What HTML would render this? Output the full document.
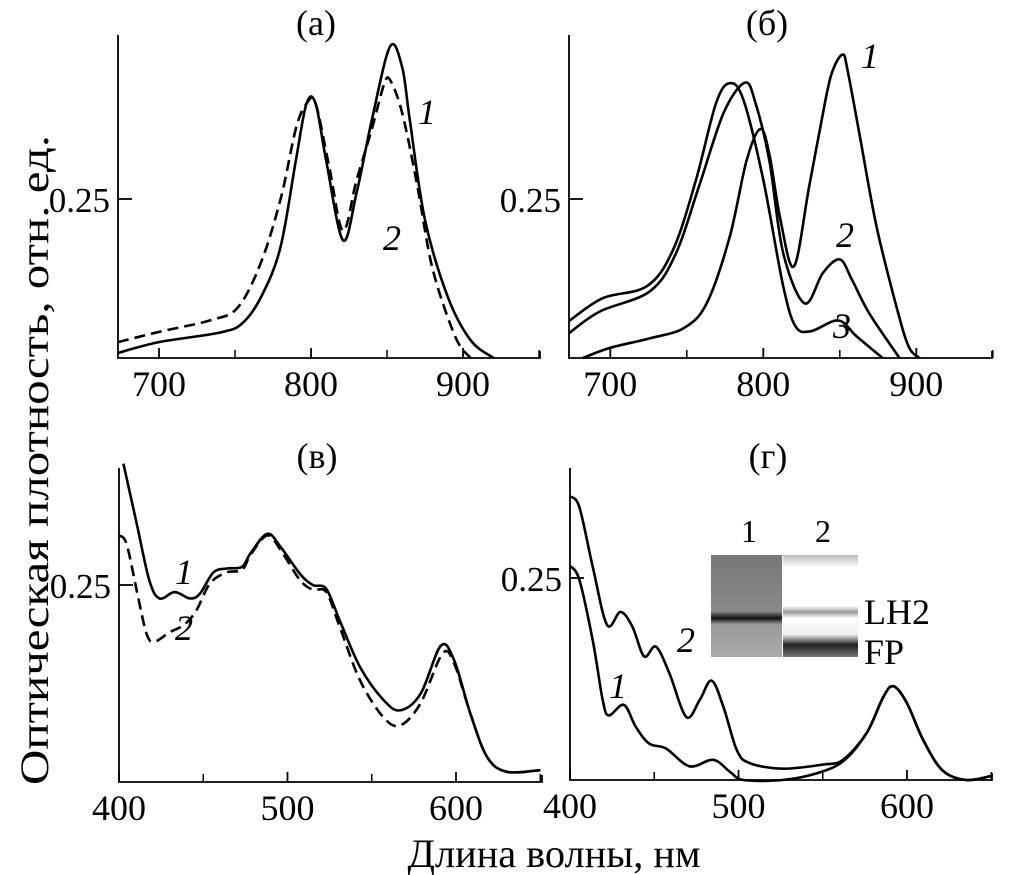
<!DOCTYPE html>
<html><head><meta charset="utf-8"><style>
body{margin:0;background:#fff;}
svg{display:block;font-family:"Liberation Serif",serif;}
</style></head><body>
<svg id="fig" width="1010" height="875" viewBox="0 0 1010 875">
<defs>
<linearGradient id="lane1" x1="0" y1="0" x2="0" y2="1">
<stop offset="0" stop-color="#777"/><stop offset="0.55" stop-color="#8a8a8a"/><stop offset="0.62" stop-color="#111"/><stop offset="0.68" stop-color="#999"/><stop offset="1" stop-color="#aaa"/></linearGradient>
<linearGradient id="lane2" x1="0" y1="0" x2="0" y2="1">
<stop offset="0" stop-color="#bbb"/><stop offset="0.12" stop-color="#fff"/><stop offset="0.5" stop-color="#fff"/><stop offset="0.56" stop-color="#999"/><stop offset="0.62" stop-color="#fff"/><stop offset="0.78" stop-color="#eee"/><stop offset="0.88" stop-color="#222"/><stop offset="1" stop-color="#777"/></linearGradient>
</defs>
</svg>
<script>
// Panel (a)
const aWl1=[673,700,740,755,768,780,790,797,803,810,821,830,840,852,860,865,875,890,905,920];
const aVal1=[0.008,0.025,0.04,0.055,0.1,0.175,0.31,0.40,0.40,0.31,0.185,0.26,0.374,0.49,0.457,0.374,0.217,0.096,0.028,0];
const aWl2=[673,700,735,752,767,780,790,797,803,812,821,830,840,848,852,860,870,880,895,905];
const aVal2=[0.025,0.041,0.06,0.08,0.15,0.25,0.36,0.40,0.40,0.30,0.20,0.28,0.36,0.43,0.437,0.385,0.27,0.14,0.033,0];
// Panel (б)
const bWl1=[682,700,726,748,763,778,789,798,804,811,820,830,841,846,852,855,863,874,887,895,902];
const bVal1=[0,0.016,0.031,0.047,0.086,0.19,0.31,0.36,0.32,0.22,0.144,0.27,0.41,0.456,0.477,0.453,0.35,0.207,0.081,0.018,0];
const bWl2=[673,693,726,743,758,774,788,795,804,813,827,839,850,858,869,889];
const bVal2=[0.039,0.073,0.105,0.165,0.27,0.385,0.433,0.40,0.31,0.165,0.086,0.134,0.155,0.123,0.071,0];
const bWl3=[673,695,724,741,756,769,778,787,800,813,821,831,849,861,878];
const bVal3=[0.058,0.094,0.113,0.17,0.28,0.40,0.432,0.406,0.28,0.113,0.05,0.042,0.059,0.034,0];
// Panel (в)
const cWl1=[402.6,410.5,418,424,433,442,448,456,464,473,478,488,496,507.5,515,523,531,543,557,567,579,591,599,608.5,618.4,630,650];
const cVal1=[0.404,0.328,0.256,0.233,0.241,0.233,0.239,0.266,0.271,0.273,0.29,0.315,0.298,0.264,0.25,0.245,0.205,0.146,0.104,0.091,0.112,0.173,0.154,0.087,0.032,0.013,0.015];
const cWl2=[400,404.5,410.5,416.4,421,430,439,446,454,464,473,478,488,496,507.5,515,523,531,543,557,567,579,592,599,608.5,618.4,630,650];
const cVal2=[0.313,0.302,0.243,0.188,0.178,0.19,0.20,0.218,0.252,0.266,0.269,0.288,0.313,0.294,0.256,0.244,0.241,0.197,0.129,0.082,0.072,0.10,0.163,0.15,0.087,0.032,0.013,0.015];
// Panel (г)
const dWl1=[400,405.5,413.5,419.4,423,432,439,447,457,471,485,495,503,526,546,562,576,586,592,600,609.5,621,635,650];
const dVal1=[0.265,0.248,0.173,0.099,0.08,0.093,0.066,0.045,0.039,0.017,0.025,0.010,0,0,0.008,0.023,0.058,0.103,0.116,0.095,0.05,0.012,0,0.005];
const dWl2=[400,405.5,413.5,422,430,437,444,451,459,469,477,484,491,499,506.5,526,550,562,576,586,592,600,609.5,621,635,650];
const dVal2=[0.351,0.338,0.264,0.192,0.208,0.19,0.153,0.165,0.132,0.078,0.099,0.123,0.091,0.037,0.021,0.014,0.019,0.025,0.058,0.103,0.116,0.095,0.05,0.012,0,0.005];
const topTicks=[700,800,900];
const botTicks=[400,500,600];

const NS="http://www.w3.org/2000/svg";
const svg=document.getElementById('fig');
function mk(tag,attrs,parent){const e=document.createElementNS(NS,tag);for(const k in attrs)e.setAttribute(k,attrs[k]);(parent||svg).appendChild(e);return e;}
function txt(s,x,y,size,anchor,parent,style){const t=mk('text',{x:x,y:y,'font-size':size,'text-anchor':anchor||'middle'},parent);if(style)t.setAttribute('font-style',style);t.textContent=s;return t;}
function smooth(pts){let d='M'+pts[0][0].toFixed(1)+','+pts[0][1].toFixed(1);for(let i=0;i<pts.length-1;i++){const p0=pts[Math.max(0,i-1)],p1=pts[i],p2=pts[i+1],p3=pts[Math.min(pts.length-1,i+2)];const c1=[p1[0]+(p2[0]-p0[0])/6,p1[1]+(p2[1]-p0[1])/6],c2=[p2[0]-(p3[0]-p1[0])/6,p2[1]-(p3[1]-p1[1])/6];d+='C'+c1[0].toFixed(1)+','+c1[1].toFixed(1)+' '+c2[0].toFixed(1)+','+c2[1].toFixed(1)+' '+p2[0].toFixed(1)+','+p2[1].toFixed(1);}return d;}

function panel(cfg){
 const g=mk('g',{});
 
 
 const xs=v=>cfg.x0+(v-cfg.xmin)*cfg.xsc, ys=v=>cfg.y0-v*cfg.ysc;
 const ax=mk('path',{d:`M${cfg.x0},${cfg.ytop} V${cfg.y0} H${cfg.xend} V${cfg.y0-7}`,fill:'none',stroke:'#000','stroke-width':1.8},g);
 
 
 cfg.ticks.forEach(t=>{
  const tk=mk('line',{x1:xs(t),x2:xs(t),y1:cfg.y0,y2:cfg.y0-10,stroke:'#000','stroke-width':1.8},g);
  
  
  const mt=mk('line',{x1:xs(t+50),x2:xs(t+50),y1:cfg.y0,y2:cfg.y0-8,stroke:'#000','stroke-width':1.5},g);
  
  
  const lb=txt(String(t),xs(t),cfg.y0+38,36,'middle',g);
  
  
 });
 const yt=mk('line',{x1:cfg.x0,x2:cfg.x0+14,y1:ys(0.25),y2:ys(0.25),stroke:'#000','stroke-width':1.8},g);
 
 
 const yl=txt('0.25',cfg.x0-8,ys(0.25)+13,35,'end',g);
 
 
 const ti=txt(cfg.title,cfg.x0+198,cfg.ytop,36,'middle',g);
 
 
 cfg.series.forEach((s,i)=>{
  const pts=s.wl.map((w,j)=>[xs(w),ys(s.val[j])]);
  const p=mk('path',{d:smooth(pts),fill:'none',stroke:'#000','stroke-width':2.6},g);
  if(s.dash)p.setAttribute('stroke-dasharray','11,6');
  
  
 });
 cfg.labels.forEach(l=>{
  const t=txt(l[0],l[1],l[2],36,'middle',g,'italic');
  
  
 });
}
panel({name:'panel-a',title:'(а)',x0:118,y0:358,ytop:35,xend:540,xmin:673,xsc:1.52,ysc:636,ticks:topTicks,
 series:[{wl:aWl1,val:aVal1},{wl:aWl2,val:aVal2,dash:true}],labels:[['1',427,124],['2',392,250]]});
panel({name:'panel-b',title:'(б)',x0:569,y0:358,ytop:35,xend:992,xmin:673,xsc:1.53,ysc:636,ticks:topTicks,
 series:[{wl:bWl1,val:bVal1},{wl:bWl2,val:bVal2},{wl:bWl3,val:bVal3}],labels:[['1',870,68],['2',845,247],['3',842,338]]});
panel({name:'panel-v',title:'(в)',x0:119,y0:782,ytop:468,xend:542,xmin:400,xsc:1.685,ysc:788,ticks:botTicks,
 series:[{wl:cWl1,val:cVal1},{wl:cWl2,val:cVal2,dash:true}],labels:[['1',184,584],['2',184,640]]});
panel({name:'panel-g',title:'(г)',x0:570,y0:780,ytop:468,xend:992,xmin:400,xsc:1.685,ysc:808,ticks:botTicks,
 series:[{wl:dWl1,val:dVal1},{wl:dWl2,val:dVal2}],labels:[['1',618,698],['2',686,652]]});

// inset gel image
const ins=mk('g',{});


const l1=mk('rect',{x:711,y:555,width:71,height:102,fill:'url(#lane1)'},ins);


const l2=mk('rect',{x:783,y:555,width:75,height:102,fill:'url(#lane2)'},ins);


[['1',749,542],['2',823,542],['LH2',864,624],['FP',864,664]].forEach(a=>{
 const t=txt(a[0],a[1],a[2],a[0].length>1?36:32,a[0].length>1?'start':'middle',ins);
 
 
});

const yT=txt('Оптическая плотность, отн. ед.',0,0,40,'middle');
yT.setAttribute('transform','translate(48,460) rotate(-90)');
yT.setAttribute('textLength','650');
yT.setAttribute('lengthAdjust','spacingAndGlyphs');


const xT=txt('Длина волны, нм',554,867,40,'middle');
xT.setAttribute('textLength','293');
xT.setAttribute('lengthAdjust','spacingAndGlyphs');


</script>
</body></html>
